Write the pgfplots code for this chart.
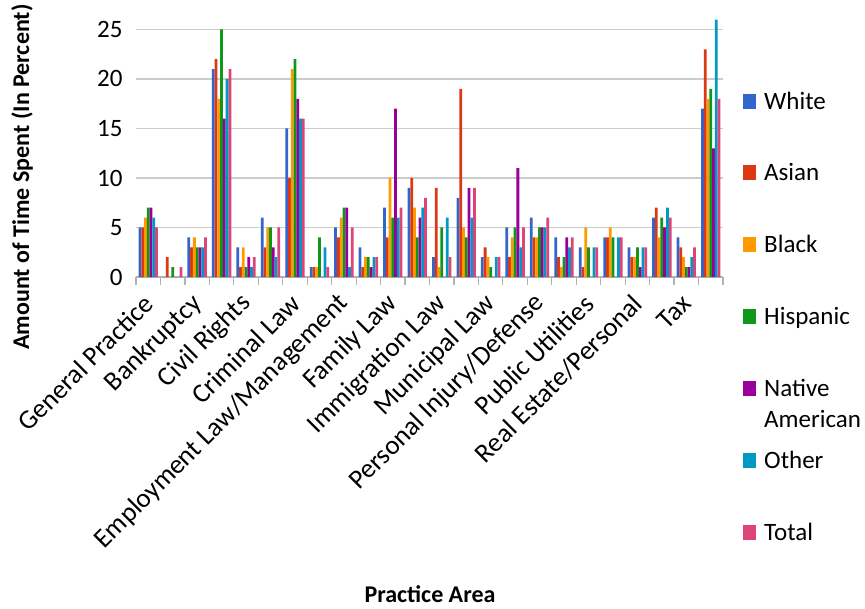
\documentclass[border=0pt]{standalone}
\usepackage{fontspec}
\setmainfont{Carlito}
\usepackage{pgfplots}
\usepackage{pgfplotstable}
\pgfplotsset{compat=1.18}
\definecolor{cW}{HTML}{3366CC}
\definecolor{cA}{HTML}{DC3912}
\definecolor{cB}{HTML}{FF9900}
\definecolor{cH}{HTML}{109618}
\definecolor{cN}{HTML}{990099}
\definecolor{cO}{HTML}{0099C6}
\definecolor{cT}{HTML}{DD4477}
\pgfplotstableread{
x W A B H N O T
1 5 5 6 7 7 6 5
2 0 2 0 1 0 0 1
3 4 3 4 3 3 3 4
4 21 22 18 25 16 20 21
5 3 1 3 1 2 1 2
6 6 3 5 5 3 2 5
7 15 10 21 22 18 16 16
8 1 1 1 4 0 3 1
9 5 4 6 7 7 1 5
10 3 1 2 2 1 2 2
11 7 4 10 6 17 6 7
12 9 10 7 4 6 7 8
13 2 9 1 5 0 6 2
14 8 19 5 4 9 6 9
15 2 3 2 1 0 2 2
16 5 2 4 5 11 3 5
17 6 4 4 5 5 5 6
18 4 2 1 2 4 3 4
19 3 1 5 3 0 3 3
20 4 4 5 4 0 4 4
21 3 2 2 3 1 3 3
22 6 7 4 6 5 7 6
23 4 3 2 1 1 2 3
24 17 23 18 19 13 26 18
}\datatable
\pgfplotsset{mybar/.style={fill=#1, draw=none,
  legend image code/.code={\path[##1] (0pt,-7.5pt) rectangle (13pt,7.5pt); \path (19pt,0pt);}}}
\begin{document}
\begin{tikzpicture}
\begin{axis}[
  scale only axis, width=587pt, height=262.4pt,
  ymin=0, ymax=26.5, xmin=0.5, xmax=24.5,
  ybar=0pt, bar width=0.113,
  axis x line*=bottom, axis y line*=left,
  y axis line style={draw=none},
  x axis line style={draw=gray!60, line width=1.3pt},
  ytick={0,5,...,25},
  ymajorgrids, grid style={gray!40, line width=1.2pt},
  major tick length=0pt,
  xtick={1,3,...,23},
  xticklabels={General Practice, Bankruptcy, Civil Rights, Criminal Law, Employment Law/Management, Family Law, Immigration Law, Municipal Law, Personal Injury/Defense, Public Utilities, Real Estate/Personal, Tax},
  extra x ticks={0.5,1.5,...,24.5}, extra x tick labels={},
  extra x tick style={major tick length=8pt, tick align=outside},
  xtick style={draw=gray!60, line width=1.2pt},
  ytick style={draw=none},
  /pgf/number format/assume math mode=true,
  yticklabel style={font=\fontsize{25}{30}\selectfont, xshift=-10pt},
  xticklabel style={yshift=-20pt, xshift=3pt, rotate=45, anchor=east, font=\fontsize{27}{30}\selectfont},
  every axis x label/.style={at={(axis description cs:0.5009,-1.208)}, anchor=center, font=\bfseries\fontsize{24}{28}\selectfont},
  every axis y label/.style={at={(axis description cs:-0.194,0.381)}, rotate=90, anchor=center, font=\bfseries\fontsize{24}{28}\selectfont},
  xlabel={Practice Area},
  ylabel={Amount of Time Spent (In Percent)},
  legend style={draw=none, fill=none, at={(axis description cs:1.029,0.722)}, anchor=north west,
    font=\fontsize{25}{31}\selectfont, row sep=49pt, cells={anchor=west}},
  legend cell align=left,
]
\addplot[mybar=cW] table[x=x,y=W]{\datatable};
\addplot[mybar=cA] table[x=x,y=A]{\datatable};
\addplot[mybar=cB] table[x=x,y=B]{\datatable};
\addplot[mybar=cH] table[x=x,y=H]{\datatable};
\addplot[mybar=cN] table[x=x,y=N]{\datatable};
\addplot[mybar=cO] table[x=x,y=O]{\datatable};
\addplot[mybar=cT] table[x=x,y=T]{\datatable};
\legend{White,Asian,Black,Hispanic,{\raisebox{0pt}[17.5pt][0pt]{\begin{tabular}[t]{@{}l@{}}Native\\American\end{tabular}}},Other,Total}
\end{axis}
\pgfresetboundingbox
\path (current axis.south west) ++(-136pt,-331pt) rectangle ++(865pt,608pt);
\end{tikzpicture}
\end{document}
